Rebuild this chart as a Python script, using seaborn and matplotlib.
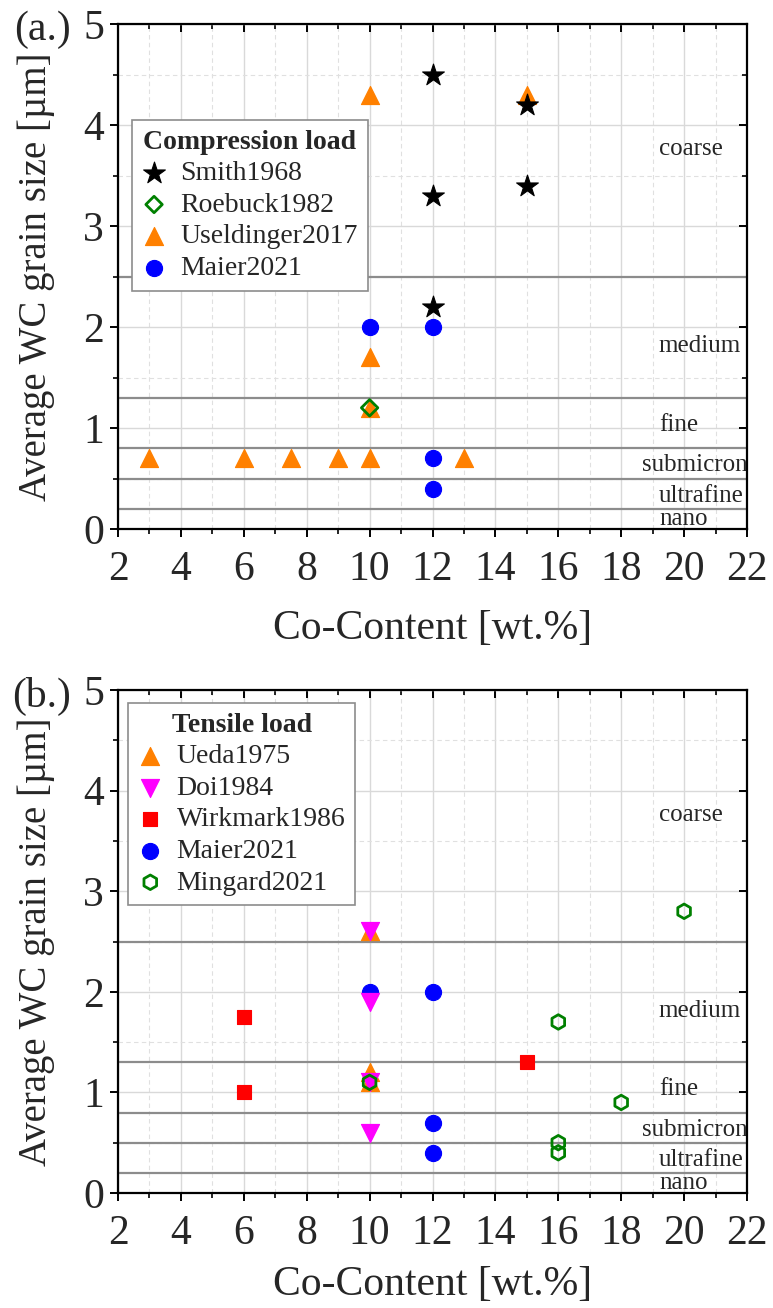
import matplotlib
matplotlib.use("Agg")
import matplotlib.pyplot as plt
import seaborn as sns
import pandas as pd
from matplotlib.ticker import MultipleLocator

# ---------------- data ----------------
# (a) compression load
smith_x = [12, 15, 15, 12, 12]
smith_y = [4.5, 4.2, 3.4, 3.3, 2.2]
roebuck_x = [10]
roebuck_y = [1.2]
useld_x = [10, 15, 10, 10, 3, 6, 7.5, 9, 10, 13]
useld_y = [4.3, 4.3, 1.7, 1.2, 0.7, 0.7, 0.7, 0.7, 0.7, 0.7]
maier_x = [10, 12, 12, 12]
maier_y = [2.0, 2.0, 0.7, 0.4]

# (b) tensile load
ueda_x = [10, 10, 10]
ueda_y = [2.6, 1.2, 1.1]
doi_x = [10, 10, 10, 10]
doi_y = [2.6, 1.9, 1.1, 0.6]
wirk_x = [6, 6, 15]
wirk_y = [1.75, 1.0, 1.3]
mingard_x = [20, 16, 18, 16, 16, 10]
mingard_y = [2.8, 1.7, 0.9, 0.5, 0.4, 1.1]

class_bounds = [2.5, 1.3, 0.8, 0.5, 0.2]
class_names = ["coarse", "medium", "fine", "submicron", "ultrafine", "nano"]

x_ticks = list(range(2, 23, 2))
y_ticks = [0, 1, 2, 3, 4, 5]

# ---------------- style ----------------
sns.set_style("ticks")
plt.rcParams["font.family"] = ["Liberation Serif", "DejaVu Serif"]
plt.rcParams["mathtext.fontset"] = "stix"

fig = plt.figure(figsize=(7.73, 13.08), dpi=100)
L, R = 118 / 773, 747 / 773
ax_a = fig.add_axes([L, 1 - 529 / 1308, R - L, (529 - 24) / 1308])
ax_b = fig.add_axes([L, 1 - 1193 / 1308, R - L, (1193 - 690) / 1308])

ORANGE = "#ff8000"
BLUE = "#0000ff"
GREEN = "#008000"
MAGENTA = "#ff00ff"
RED = "#ff0000"

label_pos_y = [3.76, 1.81, 1.03, 0.63, 0.33, 0.10]
label_pos_x = [19.2, 19.2, 19.2, 18.65, 19.2, 19.2]


def style_axes(ax, xlabelpad):
    ax.set_xlim(2, 22)
    ax.set_ylim(0, 5)
    ax.set_xticks(x_ticks)
    ax.set_yticks(y_ticks)
    ax.xaxis.set_minor_locator(MultipleLocator(1))
    ax.yaxis.set_minor_locator(MultipleLocator(0.5))
    ax.set_axisbelow(True)
    ax.grid(which="major", color="#d9d9d9", lw=1.0, ls="-", zorder=0)
    ax.grid(which="minor", color="#e0e0e0", lw=0.8, ls=(0, (4, 3)), zorder=0)
    for s in ax.spines.values():
        s.set_linewidth(1.6)
        s.set_color("black")
    ax.tick_params(axis="both", which="major", direction="out", length=6,
                   width=1.4, labelsize=30, color="black")
    ax.tick_params(axis="x", which="major", pad=9.5)
    ax.tick_params(axis="y", which="major", pad=4)
    ax.tick_params(axis="both", which="minor", direction="out", length=3.5,
                   width=1.2, color="black")
    ax.tick_params(axis="x", which="both", top=True)
    ax.tick_params(axis="y", which="both", right=True)
    for t in ax.xaxis.get_major_ticks() + ax.xaxis.get_minor_ticks():
        t.tick2line.set_marker(3)  # top tick pointing down (inward)
    for t in ax.yaxis.get_major_ticks() + ax.yaxis.get_minor_ticks():
        t.tick2line.set_marker(0)  # right tick pointing left (inward)
    for yb in class_bounds:
        ax.axhline(yb, color="#8c8c8c", lw=1.6, zorder=1)
    for name, tx, ty in zip(class_names, label_pos_x, label_pos_y):
        ax.text(tx, ty, name, fontsize=18, ha="left", va="center", zorder=2)
    ax.set_xlabel("Co-Content [wt.%]", fontsize=30, labelpad=xlabelpad)
    ax.set_ylabel("Average WC grain size [µm]", fontsize=28, labelpad=20)


def pts(ax, x, y, marker, color, s, label, open_=False, z=3):
    if open_:
        sns.scatterplot(x=x, y=y, ax=ax, marker=marker, s=s, color=color,
                        facecolor="none", edgecolor=color, linewidth=2.0,
                        label=label, zorder=z)
    else:
        sns.scatterplot(x=x, y=y, ax=ax, marker=marker, s=s, color=color,
                        edgecolor=color, linewidth=0.8, label=label, zorder=z)


# ---- panel (a)
pts(ax_a, smith_x, smith_y, "*", "black", 270, "Smith1968", z=4)
pts(ax_a, roebuck_x, roebuck_y, "D", GREEN, 70, "Roebuck1982", open_=True, z=5)
pts(ax_a, useld_x, useld_y, "^", ORANGE, 170, "Useldinger2017", z=3)
pts(ax_a, maier_x, maier_y, "o", BLUE, 135, "Maier2021", z=4)
style_axes(ax_a, 15)

leg_kw = dict(fontsize=20, scatterpoints=1, handlelength=0.9, handletextpad=0.5,
              labelspacing=0.22, borderpad=0.35, borderaxespad=0.0,
              fancybox=False, framealpha=1, edgecolor="#8c8c8c")
leg = ax_a.legend(title="Compression load", loc="upper left",
                  bbox_to_anchor=(0.022, 0.81),
                  title_fontproperties={"weight": "bold", "size": 20}, **leg_kw)
leg.get_frame().set_linewidth(1.2)

# ---- panel (b)
pts(ax_b, ueda_x, ueda_y, "^", ORANGE, 170, "Ueda1975", z=3)
pts(ax_b, doi_x, doi_y, "v", MAGENTA, 170, "Doi1984", z=5)
pts(ax_b, wirk_x, wirk_y, "s", RED, 100, "Wirkmark1986", z=4)
pts(ax_b, maier_x, maier_y, "o", BLUE, 135, "Maier2021", z=4)
pts(ax_b, mingard_x, mingard_y, "h", GREEN, 110, "Mingard2021", open_=True, z=6)
style_axes(ax_b, 9)
leg = ax_b.legend(title="Tensile load", loc="upper left",
                  bbox_to_anchor=(0.016, 0.974),
                  title_fontproperties={"weight": "bold", "size": 20}, **leg_kw)
leg.get_frame().set_linewidth(1.2)

fig.text(42 / 773, 1 - 30 / 1308, "(a.)", fontsize=30, ha="center", va="center")
fig.text(42 / 773, 1 - 696 / 1308, "(b.)", fontsize=30, ha="center", va="center")

fig.savefig("out.png", dpi=100)
